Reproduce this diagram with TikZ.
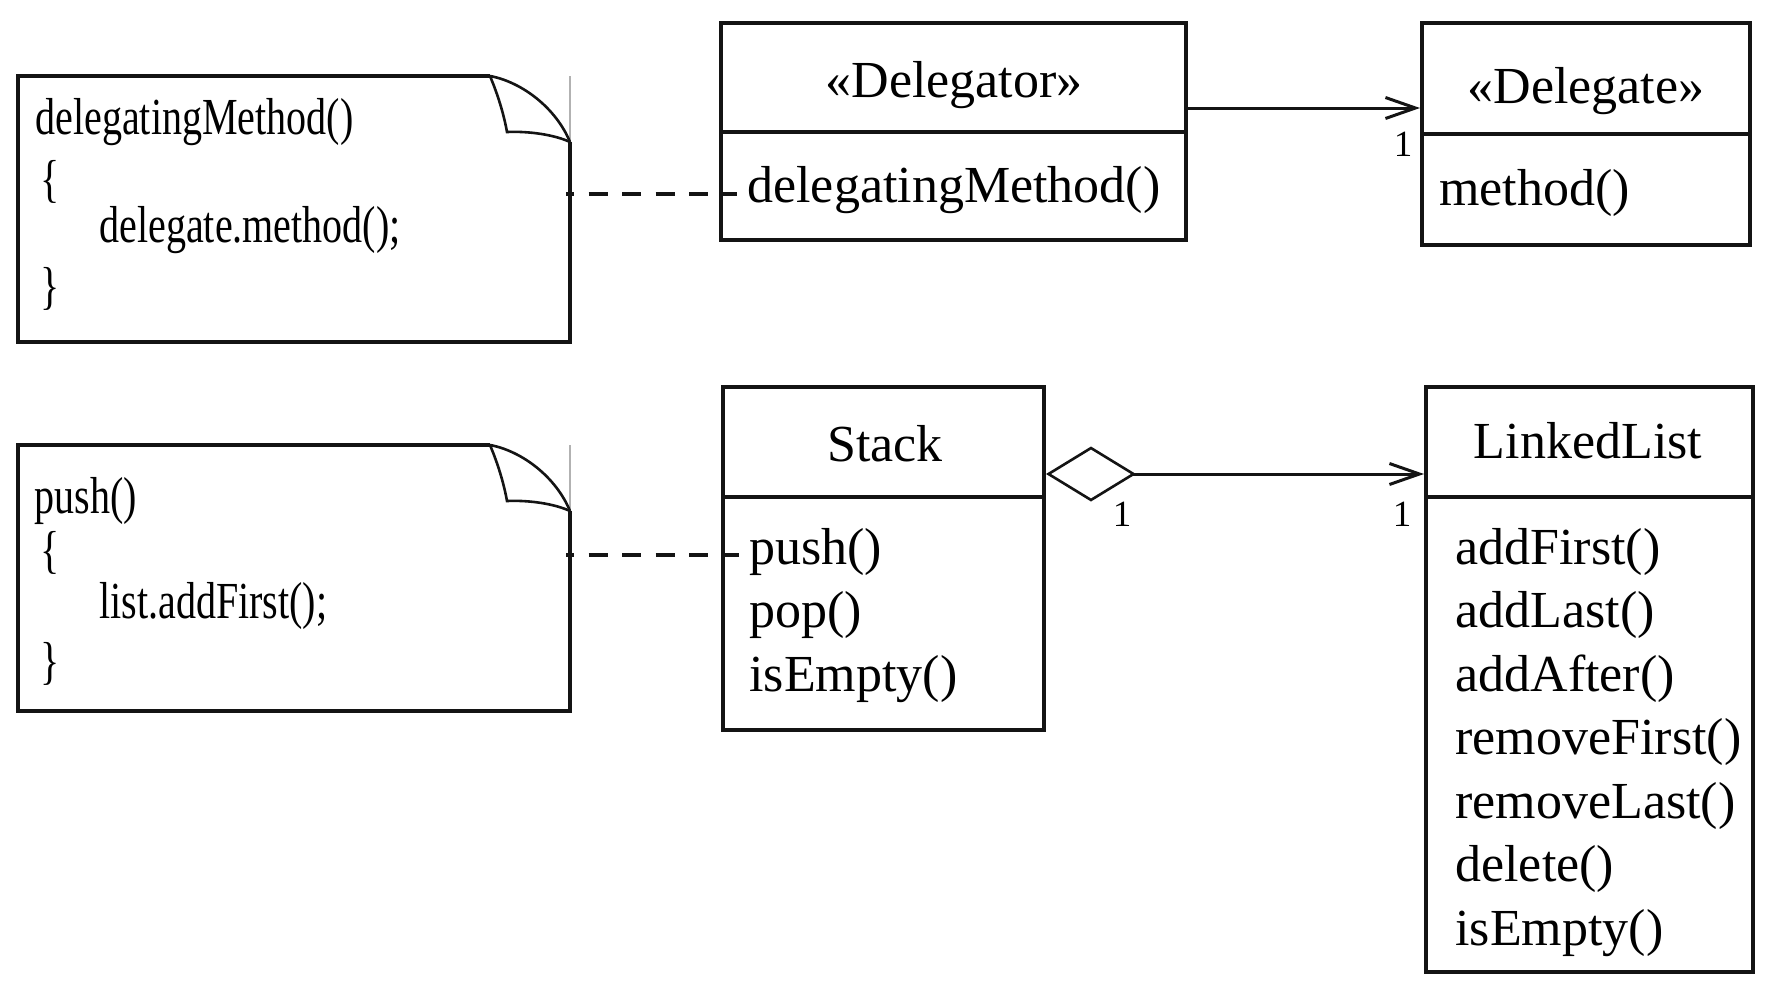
\documentclass[tikz,border=0pt]{standalone}
\usepackage{fontspec}
\setmainfont{Liberation Serif}
\newfontfamily\notefont[FakeStretch=0.77]{Liberation Serif}
\usetikzlibrary{arrows.meta,fit}
\begin{document}
\begin{tikzpicture}[x=0.5pt,y=-0.5pt,
  boxnode/.style={draw=black!92, line width=2pt, inner sep=0pt},
  boxline/.style={draw=black!92, line width=2pt},
  hidden/.style={inner sep=0pt, outer sep=0pt},
  ttl/.style={inner sep=0pt, anchor=base, text=black, font=\fontsize{26}{30}\selectfont},
  ops/.style={inner sep=0pt, anchor=base west, text=black, font=\fontsize{26}{30}\selectfont},
  notetxt/.style={inner sep=0pt, anchor=base west, text=black, font=\notefont\fontsize{26}{30}\selectfont},
  notebrace/.style={inner sep=0pt, anchor=west, text=black, font=\notefont\fontsize{26}{30}\selectfont},
  mult/.style={inner sep=0pt, text=black, font=\fontsize{18.5}{20}\selectfont},
  noteborder/.style={draw=black!92, line width=1.9pt},
  foldline/.style={draw=black!92, line width=1.3pt},
  faint/.style={draw=black!30, line width=0.6pt},
  dashline/.style={draw=black!92, line width=1.7pt, dash pattern=on 9.5pt off 7.25pt, dash phase=5.5pt},
  assoc/.style={draw=black!92, line width=1.5pt, arrows={-Straight Barb[length=15pt,width=10.5pt]}},
  aggr/.style={draw=black!92, line width=1.5pt, arrows={Diamond[open,length=45pt,width=27.5pt,line width=1.3pt]-Straight Barb[length=15pt,width=10.5pt]}}
]
\useasboundingbox (0,0) rectangle (1774,1002);

% ---- note 1 ----
\node[hidden, fit={(18,76)(570,342)}] (note1) {};
\draw[faint] (570,76) -- (570,142);
\draw[noteborder] (490,76) -- (18,76) -- (18,342) -- (570,342) -- (570,142);
\draw[foldline] (490,76) .. controls (522,82) and (556,108) .. (570,142);
\draw[foldline] (490,76) .. controls (498,95) and (504,115) .. (507,132) .. controls (530,131) and (555,135) .. (570,142);
\node[notetxt] (n1a) at (35,134) {delegatingMethod()};
\node[notebrace] (n1b) at (40,182) {\{};
\node[notetxt] (n1c) at (99,242) {delegate.method();};
\node[notebrace] (n1d) at (40,289) {\}};

% ---- note 2 ----
\node[hidden, fit={(18,445)(570,711)}] (note2) {};
\draw[faint] (570,445) -- (570,511);
\draw[noteborder] (490,445) -- (18,445) -- (18,711) -- (570,711) -- (570,511);
\draw[foldline] (490,445) .. controls (522,451) and (556,477) .. (570,511);
\draw[foldline] (490,445) .. controls (498,464) and (504,484) .. (507,501) .. controls (530,500) and (555,504) .. (570,511);
\node[notetxt] (n2a) at (34,513) {push()};
\node[notebrace] (n2b) at (40,553) {\{};
\node[notetxt] (n2c) at (99,618) {list.addFirst();};
\node[notebrace] (n2d) at (40,664) {\}};

% ---- Delegator ----
\node[boxnode, fit={(721,23)(1186,240)}] (delegator) {};
\coordinate (r1) at (0,132);
\draw[boxline] (delegator.west |- r1) -- (delegator.east |- r1);
\node[ttl] (t1) at (954,97) {«Delegator»};
\node[ops] (o1) at (747,202) {delegatingMethod()};

% ---- Delegate ----
\node[boxnode, fit={(1422,23)(1750,245)}] (delegate) {};
\coordinate (r2) at (0,134);
\draw[boxline] (delegate.west |- r2) -- (delegate.east |- r2);
\node[ttl] (t2) at (1586,103) {«Delegate»};
\node[ops] (o2) at (1439,205) {method()};

% ---- Stack ----
\node[boxnode, fit={(723,387)(1044,730)}] (stack) {};
\coordinate (r3) at (0,497);
\draw[boxline] (stack.west |- r3) -- (stack.east |- r3);
\node[ttl] (t3) at (885,461) {Stack};
\node[ops] (s1) at (749,564) {push()};
\node[ops] (s2) at (749,627.5) {pop()};
\node[ops] (s3) at (749,691) {isEmpty()};

% ---- LinkedList ----
\node[boxnode, fit={(1426,387)(1753,972)}] (linkedlist) {};
\draw[boxline] (linkedlist.west |- r3) -- (linkedlist.east |- r3);
\node[ttl] (t4) at (1588,458) {LinkedList};
\node[ops] (l1) at (1455,564) {addFirst()};
\node[ops] (l2) at (1455,627.5) {addLast()};
\node[ops] (l3) at (1455,691) {addAfter()};
\node[ops] (l4) at (1455,754.5) {removeFirst()};
\node[ops] (l5) at (1455,818) {removeLast()};
\node[ops] (l6) at (1455,881.5) {delete()};
\node[ops] (l7) at (1455,945) {isEmpty()};

% ---- connectors ----
\coordinate (a1) at (0,108);
\draw[assoc] (delegator.east |- a1) -- (delegate.west |- a1);
\node[mult] (m1) at (1403,144) {1};

\coordinate (a2) at (0,474);
\draw[aggr] (stack.east |- a2) -- (linkedlist.west |- a2);
\node[mult] (m2) at (1122,514) {1};
\node[mult] (m3) at (1402,514) {1};

\coordinate (d1) at (0,194);
\draw[dashline] ([xshift=-2pt]note1.east |- d1) -- ([xshift=9pt]delegator.west |- d1);
\coordinate (d2) at (0,555);
\draw[dashline] ([xshift=-2pt]note2.east |- d2) -- ([xshift=9pt]stack.west |- d2);
\end{tikzpicture}
\end{document}
